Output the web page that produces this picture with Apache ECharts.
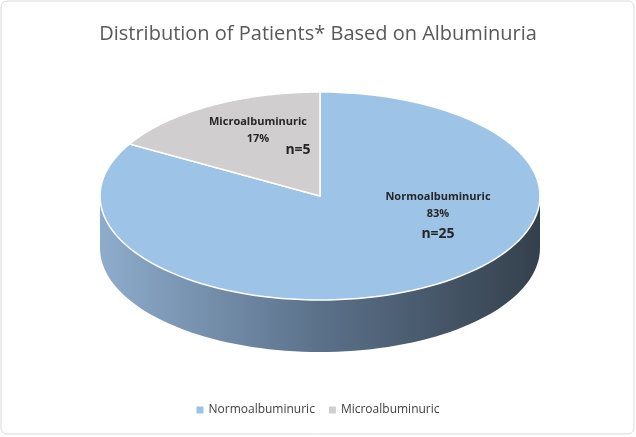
<!DOCTYPE html>
<html><head><meta charset="utf-8">
<script src="https://cdn.jsdelivr.net/npm/echarts@6/dist/echarts.min.js"></script>
<style>html,body{margin:0;padding:0;background:#fff}#c{width:636px;height:437px}</style>
</head><body><div id="c"></div>
<script>
const categories = ['Normoalbuminuric', 'Microalbuminuric'];
const values = [25, 5];
const percents = ['83%', '17%'];
const colors = ['#9dc3e6', '#d0cece'];
const total = values.reduce((a, b) => a + b, 0);
const cx = 320, cy = 196, rx = 220, ry = 104, depth = 52;
function pt(t, dy) { return [cx + rx * Math.sin(t), cy - ry * Math.cos(t) + (dy || 0)]; }
const lbl = { fontFamily: 'Open Sans', fontSize: 11, fontWeight: 'bold', fill: '#262626', lineHeight: 17, align: 'center', verticalAlign: 'top' };
const nst = { fontFamily: 'Open Sans', fontSize: 14, fontWeight: 'bold', fill: '#262626', align: 'center', verticalAlign: 'top' };
const chart = echarts.init(document.getElementById('c'));
chart.setOption({
  animation: false,
  title: { text: 'Distribution of Patients* Based on Albuminuria', left: 'center', top: 19,
    textStyle: { fontFamily: 'Open Sans', fontSize: 20, fontWeight: 'normal', color: '#595959' } },
  legend: { bottom: 16, left: 'center', itemWidth: 7, itemHeight: 7, icon: 'rect', itemGap: 14,
    textStyle: { fontFamily: 'Open Sans', fontSize: 12, color: '#404040' }, data: categories },
  graphic: [
    { type: 'rect', shape: { x: 1, y: 1, width: 633, height: 433, r: 6 }, style: { fill: 'none', stroke: '#d9d9d9' }, z: -10 },
    { type: 'text', x: 258, y: 113, style: Object.assign({ text: categories[1] + '\n' + percents[1] }, lbl), z: 100 },
    { type: 'text', x: 298, y: 143, style: Object.assign({ text: 'n=' + values[1] }, nst), z: 100 },
    { type: 'text', x: 438, y: 188, style: Object.assign({ text: categories[0] + '\n' + percents[0] }, lbl), z: 100 },
    { type: 'text', x: 438, y: 227, style: Object.assign({ text: 'n=' + values[0] }, nst), z: 100 }
  ],
  series: [
    { type: 'pie', name: 'legend', radius: [0, 0], silent: true, label: { show: false },
      data: categories.map((n, i) => ({ name: n, value: values[i], itemStyle: { color: colors[i] } })) },
    { type: 'custom', coordinateSystem: 'none', data: values.map((v, i) => [i, v]),
      renderItem: function (params, api) {
        const i = api.value(0);
        let start = 0;
        for (let k = 0; k < i; k++) start += values[k];
        const a0 = start / total * 2 * Math.PI, a1 = (start + values[i]) / total * 2 * Math.PI;
        const children = [];
        const w0 = Math.max(a0, Math.PI / 2), w1 = Math.min(a1, 3 * Math.PI / 2);
        if (w1 > w0) {
          const top = [], bot = [];
          for (let s = 0; s <= 80; s++) { const t = w0 + (w1 - w0) * s / 80; top.push(pt(t)); bot.push(pt(t, depth)); }
          children.push({ type: 'polygon', shape: { points: top.concat(bot.reverse()) },
            style: { fill: new echarts.graphic.LinearGradient(0, 0, 1, 0, [
              { offset: 0, color: '#8eaccc' }, { offset: 0.5, color: '#5b718a' }, { offset: 1, color: '#34404c' }]) } });
        }
        const pts = [[cx, cy]];
        for (let s = 0; s <= 120; s++) pts.push(pt(a0 + (a1 - a0) * s / 120));
        children.push({ type: 'polygon', shape: { points: pts }, style: { fill: colors[i], stroke: '#fff', lineWidth: 1.5 } });
        return { type: 'group', children: children };
      } }
  ]
});
</script></body></html>
